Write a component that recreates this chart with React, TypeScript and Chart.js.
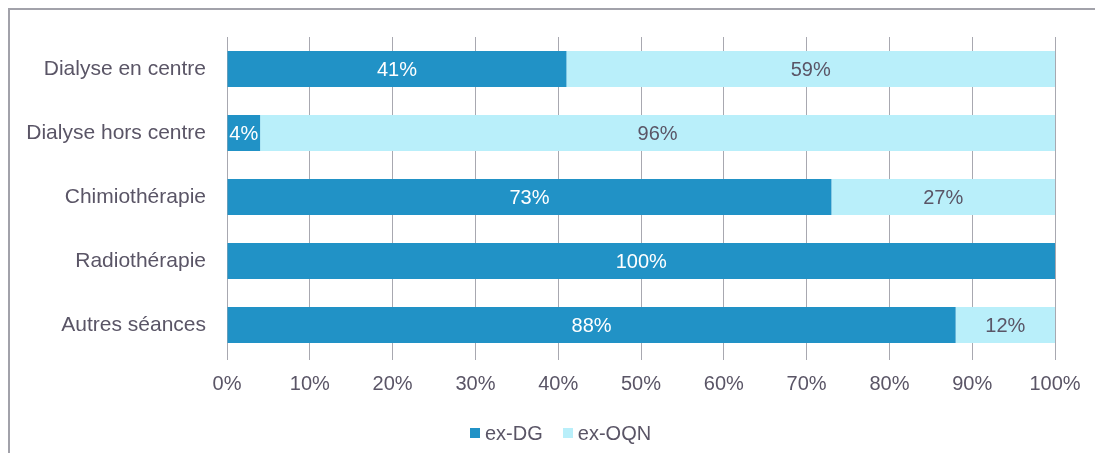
import React, { useEffect, useRef } from "react";
import { Chart, registerables } from "chart.js";

Chart.register(...registerables);

const categories = [
  "Dialyse en centre",
  "Dialyse hors centre",
  "Chimiothérapie",
  "Radiothérapie",
  "Autres séances",
];
const seriesNames = ["ex-DG", "ex-OQN"];
const exDG = [41, 4, 73, 100, 88];
const exOQN = [59, 96, 27, 0, 12];
const xTicks = [0, 10, 20, 30, 40, 50, 60, 70, 80, 90, 100];

const DARK = "#2192c6";
const LIGHT = "#b9effa";
const TEXT = "#5a5566";
const GRID = "#a8a8b0";
const FONT = "'Liberation Sans', Arial, sans-serif";

const labelPlugin = {
  id: "barLabels",
  afterDatasetsDraw(chart: any) {
    const ctx = chart.ctx;
    ctx.save();
    ctx.font = `20px ${FONT}`;
    ctx.textAlign = "center";
    ctx.textBaseline = "middle";
    chart.data.datasets.forEach((ds: any, di: number) => {
      const meta = chart.getDatasetMeta(di);
      meta.data.forEach((el: any, i: number) => {
        const v = ds.data[i];
        if (!v) return;
        const { x, y, base } = el.getProps(["x", "y", "base"], true);
        ctx.fillStyle = di === 0 ? "#ffffff" : TEXT;
        ctx.fillText(v + "%", (x + base) / 2, y + 1);
      });
    });
    ctx.restore();
  },
};

export default function App() {
  const ref = useRef<HTMLCanvasElement>(null);
  useEffect(() => {
    if (!ref.current) return;
    const chart = new Chart(ref.current, {
      type: "bar",
      data: {
        labels: categories,
        datasets: [
          {
            label: seriesNames[0],
            data: exDG,
            backgroundColor: DARK,
            categoryPercentage: 1,
            barPercentage: 0.565,
          },
          {
            label: seriesNames[1],
            data: exOQN,
            backgroundColor: LIGHT,
            categoryPercentage: 1,
            barPercentage: 0.565,
          },
        ],
      },
      options: {
        indexAxis: "y",
        animation: false,
        responsive: false,
        maintainAspectRatio: false,
        layout: { padding: { left: 0, top: 27, right: 48, bottom: 46 } },
        plugins: {
          legend: { display: false },
          tooltip: { enabled: false },
        },
        scales: {
          x: {
            stacked: true,
            min: 0,
            max: 100,
            afterBuildTicks(axis: any) {
              axis.ticks = xTicks.map((v) => ({ value: v }));
            },
            afterFit(axis: any) {
              axis.height = 50;
            },
            border: { display: false },
            grid: {
              color: GRID,
              lineWidth: 1,
              drawTicks: true,
              tickLength: 3,
            },
            ticks: {
              padding: 12,
              color: TEXT,
              font: { family: FONT, size: 20 },
              callback: (v: any) => v + "%",
              maxRotation: 0,
            },
          },
          y: {
            stacked: true,
            afterFit(axis: any) {
              axis.width = 217;
              axis.paddingTop = 0;
              axis.paddingBottom = 0;
            },
            border: { display: false },
            grid: { display: false, drawTicks: false },
            ticks: {
              padding: 21,
              color: TEXT,
              font: { family: FONT, size: 21 },
            },
          },
        },
      },
      plugins: [labelPlugin],
    });
    return () => chart.destroy();
  }, []);

  return (
    <div
      style={{
        position: "relative",
        width: 1095,
        height: 445,
        boxSizing: "border-box",
        borderTop: "2px solid #a2a2aa",
        borderLeft: "2px solid #a2a2aa",
      }}
    >
      <canvas
        ref={ref}
        width={1093}
        height={443}
        style={{ position: "absolute", left: 0, top: 0, width: 1093, height: 443 }}
      />
      <div
        style={{
          position: "absolute",
          left: 460,
          top: 411,
          display: "flex",
          alignItems: "center",
          fontFamily: FONT,
          fontSize: 20,
          lineHeight: "24px",
          color: TEXT,
          whiteSpace: "nowrap",
        }}
      >
        <span style={{ width: 10, height: 10, background: DARK, marginRight: 5, display: "inline-block" }} />
        <span>{seriesNames[0]}</span>
        <span style={{ width: 10, height: 10, background: LIGHT, marginRight: 5, marginLeft: 20, display: "inline-block" }} />
        <span>{seriesNames[1]}</span>
      </div>
    </div>
  );
}
